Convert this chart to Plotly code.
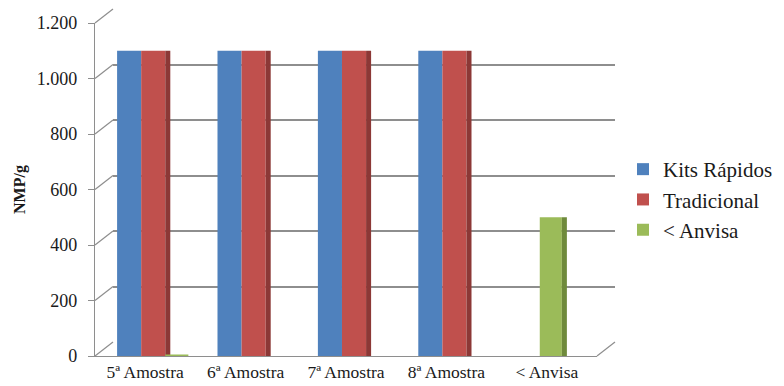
import plotly.graph_objects as go

# ---------------- data ----------------
categories = ["5ª Amostra", "6ª Amostra", "7ª Amostra", "8ª Amostra", "< Anvisa"]
kits_rapidos = [1100, 1100, 1100, 1100, None]
tradicional = [1100, 1100, 1100, 1100, None]
anvisa = [0, None, None, None, 500]
y_ticks = [0, 200, 400, 600, 800, 1000, 1200]

# ---------------- layout constants (pixels) ----------------
W, H = 784, 386
FX0, FX1 = 95, 597          # front plane x extent
FY0, FY1 = 356, 23          # front plane y of 0 and 1200
DX, DY = 18, 14             # depth offset of back wall
BX0, BX1 = FX0 + DX, FX1 + DX
BY0, BY1 = FY0 - DY, FY1 - DY
YMAX = 1200

def px(x):
    return x / W

def py(y):
    return (H - y) / H

BLUE = "#4F81BD"
RED, RED_D = "#C0504D", "#8C3836"
GREEN, GREEN_D = "#9BBB59", "#6F8A3C"
GRID = "#8E8E8E"
FONT = "Liberation Serif, Times New Roman, serif"
TXT = "#1a1a1a"

fig = go.Figure()

# back wall (gridlines only) on x / y
fig.add_trace(go.Scatter(x=[None], y=[None], xaxis="x", yaxis="y",
                         showlegend=False, hoverinfo="skip"))

# front plane: bars on x2 / y2
fig.add_trace(go.Bar(name="Kits Rápidos", x=categories, y=kits_rapidos,
                     xaxis="x2", yaxis="y2", marker_color=BLUE,
                     marker_line_width=0, offset=-0.28, width=0.24))
fig.add_trace(go.Bar(name="Tradicional", x=categories, y=tradicional,
                     xaxis="x2", yaxis="y2", marker_color=RED,
                     marker_line_width=0, offset=-0.04, width=0.24))
# dark side of the red columns
fig.add_trace(go.Bar(name="Tradicional", x=categories, y=tradicional,
                     xaxis="x2", yaxis="y2", marker_color=RED_D,
                     marker_line_width=0, offset=0.2, width=0.05,
                     showlegend=False, hoverinfo="skip"))
fig.add_trace(go.Bar(name="< Anvisa", x=categories, y=anvisa,
                     xaxis="x2", yaxis="y2", marker_color=GREEN,
                     marker_line_width=0,
                     offset=[0.2, 0, 0, 0, -0.07],
                     width=[0.23, 0.22, 0.22, 0.22, 0.22]))
# dark side / flat top of the green columns
fig.add_trace(go.Bar(name="< Anvisa", x=categories, y=anvisa,
                     xaxis="x2", yaxis="y2", marker_color=GREEN_D,
                     marker_line=dict(color=GREEN, width=[3, 0, 0, 0, 0]),
                     offset=[0.2, 0, 0, 0, 0.15],
                     width=[0.23, 0.05, 0.05, 0.05, 0.05],
                     showlegend=False, hoverinfo="skip"))

shapes = []
# left wall diagonals from front ticks to back-wall gridlines
for v in y_ticks:
    yf = FY0 + (FY1 - FY0) * v / YMAX
    yb = BY0 + (BY1 - BY0) * v / YMAX
    shapes.append(dict(type="line", xref="paper", yref="paper",
                       x0=px(FX0), y0=py(yf), x1=px(BX0), y1=py(yb),
                       line=dict(color=GRID, width=1.2), layer="below"))
# floor right edge
shapes.append(dict(type="line", xref="paper", yref="paper",
                   x0=px(FX1), y0=py(FY0), x1=px(BX1), y1=py(BY0),
                   line=dict(color=GRID, width=1.2), layer="below"))

fig.update_layout(
    width=W, height=H, autosize=False,
    margin=dict(l=0, r=0, t=0, b=0, autoexpand=False),
    paper_bgcolor="white", plot_bgcolor="rgba(0,0,0,0)",
    separators=",.",
    barmode="overlay",
    font=dict(family=FONT, color=TXT, size=16),
    xaxis=dict(domain=[px(BX0), px(BX1)], anchor="y", range=[0, 1],
               showgrid=False, zeroline=False, showticklabels=False,
               showline=False, fixedrange=True, automargin=False),
    yaxis=dict(domain=[py(BY0), py(BY1)], anchor="x", range=[0, YMAX],
               tickvals=y_ticks, showgrid=True, gridcolor=GRID, gridwidth=1.5,
               zeroline=False, showticklabels=False, showline=False,
               fixedrange=True, automargin=False),
    xaxis2=dict(domain=[px(FX0), px(FX1)], anchor="y2", type="category",
                range=[-0.5, 4.5], showgrid=False, zeroline=False,
                showline=True, linecolor=GRID, linewidth=1.2, ticks="",
                automargin=False,
                tickfont=dict(family=FONT, size=17.5, color=TXT)),
    yaxis2=dict(domain=[py(FY0), py(FY1)], anchor="x2", range=[0, YMAX],
                tickvals=y_ticks, tickformat=",d", showgrid=False,
                zeroline=False, showline=True, linecolor=GRID, linewidth=1.2,
                ticks="outside", ticklen=6, tickcolor=GRID, tickwidth=1.2,
                ticklabelstandoff=7, automargin=False,
                tickfont=dict(family=FONT, size=18, color=TXT),
                title=dict(text="<b>NMP/g</b>", standoff=7,
                           font=dict(family=FONT, size=16, color=TXT))),
    legend=dict(x=px(623), y=py(149), xanchor="left", yanchor="top",
                font=dict(family=FONT, size=21, color=TXT),
                bgcolor="rgba(0,0,0,0)", traceorder="normal",
                itemclick=False, itemdoubleclick=False),
    shapes=shapes,
)

fig.write_html("out.html")
